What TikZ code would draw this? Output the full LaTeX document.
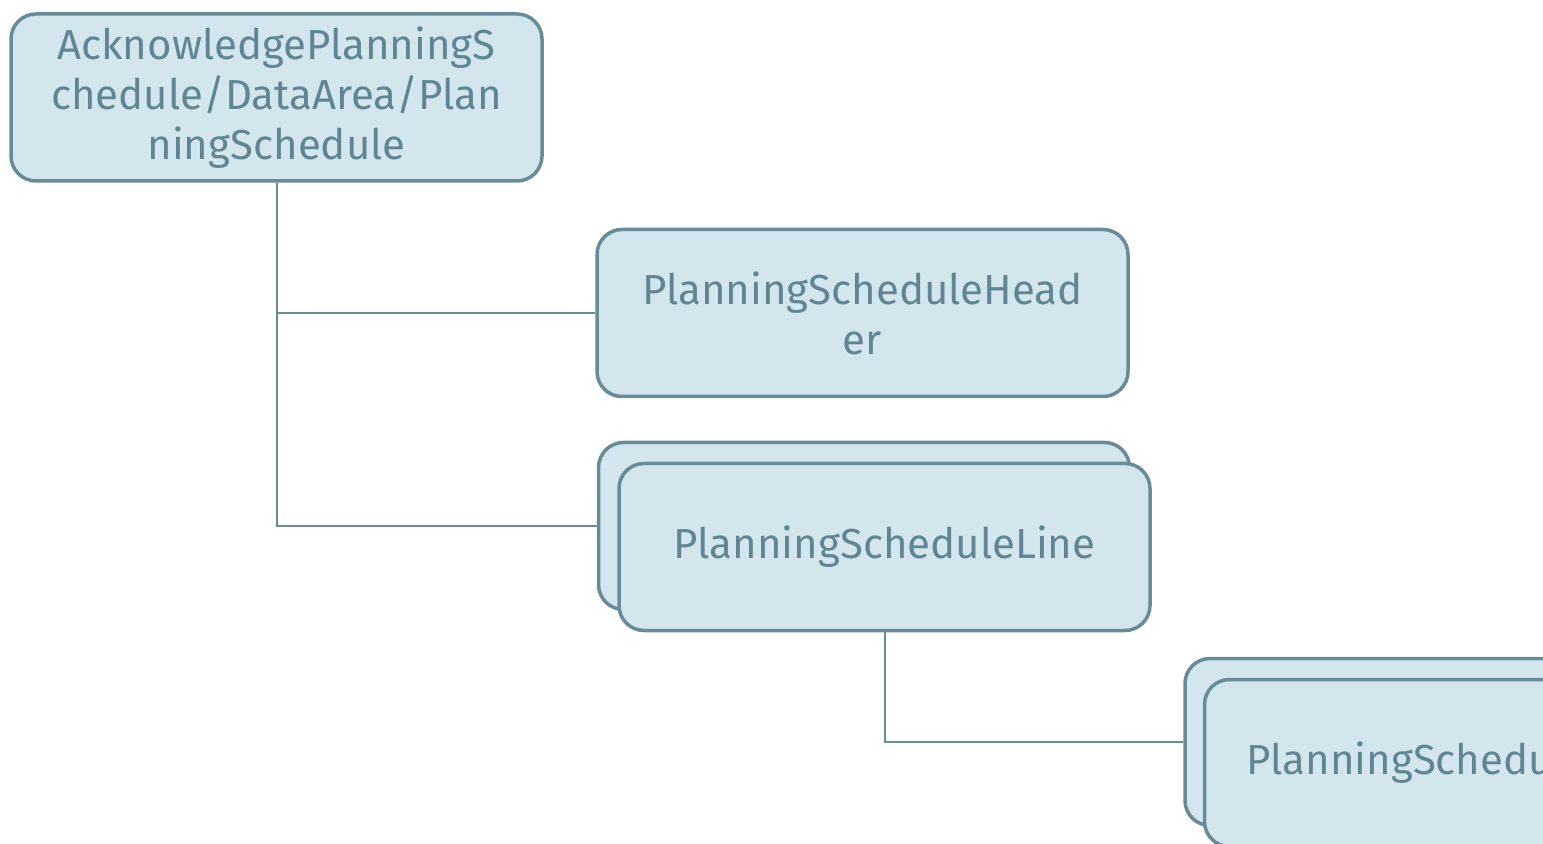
\documentclass[tikz,border=0pt]{standalone}
\usepackage{fontspec}
\setmainfont{Fira Sans}
\definecolor{boxfill}{RGB}{211,229,237}
\definecolor{boxline}{RGB}{104,139,152}
\definecolor{boxtext}{RGB}{97,134,147}
\begin{document}
\begin{tikzpicture}[x=0.5pt,y=-0.5pt,
	box/.style={draw=boxline,fill=boxfill,line width=1.75pt,rounded corners=12.5pt,
		minimum width=265.5pt,minimum height=83.5pt,inner sep=0pt,align=center,
		text=boxtext,font=\fontsize{21}{25}\selectfont},
	link/.style={draw=boxline,line width=1pt}]
	\useasboundingbox (0,0) rectangle (1543,844);
	\clip (0,0) rectangle (1543,844);
	\node[box] (root) at (276.5,97.5) {AcknowledgePlanningS\\chedule/DataArea/Plan\\ningSchedule};
	\node[box] (header) at (862.5,313) {PlanningScheduleHead\\er};
	\node[box] (lineback) at (864,526) {};
	\node[box] (line) at (884.5,547) {PlanningScheduleLine};
	\node[box] (subback) at (1450.5,742) {};
	\node[box,align=left,text width=225pt,inner xsep=21pt] (sub) at (1471.5,763) {PlanningSchedule};
	% connectors
	\draw[link] (root.south) |- (header.west);
	\draw[link] (root.south) |- (lineback.west);
	\draw[link] (line.south) |- (subback.west);
\end{tikzpicture}
\end{document}
